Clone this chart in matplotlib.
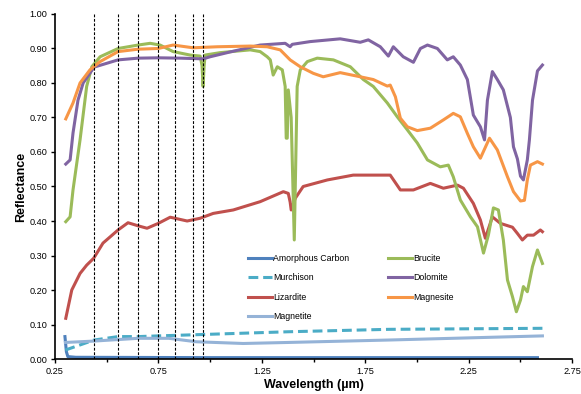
import numpy as np
import matplotlib
matplotlib.use('Agg')
import matplotlib.pyplot as plt

plt.rcParams['font.family'] = ['Liberation Sans', 'DejaVu Sans']

######data (wavelength um, reflectance)######
amorph_w = [0.298, 0.305, 0.312, 0.35, 1.0, 2.0, 2.583]
amorph_r = [0.065, 0.021, 0.007, 0.005, 0.004, 0.004, 0.004]

murch_w = [0.30, 0.439, 0.555, 0.652, 0.749, 0.961, 1.378, 1.862, 2.607]
murch_r = [0.026, 0.055, 0.065, 0.065, 0.067, 0.071, 0.079, 0.086, 0.089]

magnt_w = [0.30, 0.439, 0.652, 0.80, 0.933, 1.16, 1.378, 1.862, 2.607]
magnt_r = [0.048, 0.052, 0.060, 0.060, 0.050, 0.045, 0.048, 0.055, 0.067]

liz_w = [0.302, 0.331, 0.371, 0.403, 0.437, 0.482, 0.555, 0.603, 0.652, 0.695,
         0.749, 0.807, 0.889, 0.952, 1.015, 1.112, 1.242, 1.354, 1.378, 1.387,
         1.392, 1.412, 1.450, 1.567, 1.692, 1.871, 1.920, 1.983, 2.065, 2.128,
         2.196, 2.225, 2.273, 2.307, 2.331, 2.365, 2.404, 2.462, 2.486, 2.510,
         2.534, 2.564, 2.597, 2.607]
liz_r = [0.118, 0.200, 0.248, 0.272, 0.292, 0.336, 0.374, 0.395, 0.386, 0.379,
         0.393, 0.411, 0.400, 0.408, 0.422, 0.432, 0.456, 0.485, 0.480, 0.455,
         0.432, 0.466, 0.500, 0.519, 0.533, 0.533, 0.490, 0.490, 0.509, 0.495,
         0.504, 0.495, 0.451, 0.403, 0.350, 0.412, 0.393, 0.382, 0.364, 0.345,
         0.359, 0.359, 0.374, 0.369]

bru_w = [0.302, 0.323, 0.337, 0.371, 0.403, 0.428, 0.468, 0.555, 0.652, 0.710,
         0.758, 0.821, 0.903, 0.952, 0.961, 0.966, 0.971, 0.976, 1.049, 1.194,
         1.242, 1.276, 1.291, 1.305, 1.325, 1.349, 1.363, 1.368, 1.373, 1.378,
         1.392, 1.407, 1.421, 1.436, 1.470, 1.518, 1.596, 1.678, 1.741, 1.789,
         1.857, 1.905, 1.954, 2.002, 2.051, 2.113, 2.152, 2.176, 2.210, 2.259,
         2.293, 2.322, 2.346, 2.370, 2.394, 2.418, 2.438, 2.462, 2.481, 2.501,
         2.515, 2.534, 2.559, 2.583, 2.607]
bru_r = [0.398, 0.412, 0.490, 0.635, 0.790, 0.847, 0.876, 0.900, 0.910, 0.915,
         0.910, 0.891, 0.881, 0.878, 0.850, 0.790, 0.850, 0.881, 0.888, 0.896,
         0.891, 0.876, 0.867, 0.823, 0.847, 0.838, 0.790, 0.640, 0.640, 0.780,
         0.700, 0.345, 0.790, 0.838, 0.862, 0.872, 0.867, 0.847, 0.810, 0.790,
         0.742, 0.702, 0.664, 0.626, 0.577, 0.557, 0.562, 0.528, 0.461, 0.412,
         0.383, 0.307, 0.360, 0.438, 0.432, 0.345, 0.229, 0.181, 0.137, 0.171,
         0.210, 0.195, 0.268, 0.316, 0.277]

dol_w = [0.302, 0.323, 0.337, 0.361, 0.386, 0.439, 0.555, 0.652, 0.749, 0.855,
         0.966, 1.000, 1.097, 1.242, 1.363, 1.387, 1.397, 1.484, 1.629, 1.726,
         1.765, 1.823, 1.862, 1.886, 1.934, 1.983, 2.017, 2.051, 2.099, 2.147,
         2.176, 2.210, 2.244, 2.273, 2.307, 2.327, 2.341, 2.365, 2.389, 2.418,
         2.452, 2.467, 2.486, 2.501, 2.515, 2.534, 2.544, 2.559, 2.583, 2.607]
dol_r = [0.565, 0.577, 0.655, 0.750, 0.800, 0.846, 0.867, 0.872, 0.873, 0.872,
         0.870, 0.876, 0.890, 0.910, 0.915, 0.905, 0.912, 0.920, 0.928, 0.918,
         0.925, 0.905, 0.878, 0.905, 0.876, 0.860, 0.900, 0.910, 0.900, 0.867,
         0.876, 0.852, 0.810, 0.707, 0.673, 0.635, 0.750, 0.833, 0.810, 0.780,
         0.700, 0.615, 0.580, 0.530, 0.519, 0.577, 0.635, 0.750, 0.835, 0.852]

mgs_w = [0.302, 0.337, 0.371, 0.419, 0.468, 0.555, 0.652, 0.749, 0.821, 0.918,
         1.034, 1.194, 1.276, 1.339, 1.387, 1.436, 1.499, 1.547, 1.629, 1.726,
         1.789, 1.857, 1.871, 1.896, 1.920, 1.954, 2.002, 2.065, 2.128, 2.176,
         2.210, 2.244, 2.273, 2.307, 2.351, 2.389, 2.438, 2.467, 2.501, 2.520,
         2.534, 2.549, 2.583, 2.607]
mgs_r = [0.696, 0.742, 0.800, 0.838, 0.862, 0.891, 0.898, 0.900, 0.910, 0.902,
         0.905, 0.907, 0.905, 0.896, 0.867, 0.847, 0.828, 0.818, 0.830, 0.818,
         0.810, 0.791, 0.794, 0.760, 0.698, 0.673, 0.662, 0.669, 0.693, 0.712,
         0.702, 0.654, 0.615, 0.582, 0.640, 0.606, 0.528, 0.485, 0.458, 0.460,
         0.519, 0.562, 0.572, 0.565]

filters = [0.44, 0.555, 0.652, 0.749, 0.83, 0.918, 0.966]

#plot
fig = plt.figure(figsize=(5.81, 3.94), dpi=100)
ax = fig.add_axes([0.0947, 0.0888, 0.8898, 0.8757])
lw = 2.2
ax.plot(amorph_w, amorph_r, color='#4F81BD', lw=lw, label='Amorphous Carbon')
ax.plot(murch_w, murch_r, color='#4BACC6', lw=lw, dashes=(3.2, 1.6), label='Murchison')
ax.plot(liz_w, liz_r, color='#C0504D', lw=lw, label='Lizardite')
ax.plot(magnt_w, magnt_r, color='#95B3D7', lw=lw, label='Magnetite')
ax.plot(bru_w, bru_r, color='#9BBB59', lw=lw, label='Brucite')
ax.plot(dol_w, dol_r, color='#8064A2', lw=lw, label='Dolomite')
ax.plot(mgs_w, mgs_r, color='#F79646', lw=lw, label='Magnesite')
for f in filters:
    ax.plot([f, f], [0, 1], color='black', lw=0.8, ls=(0, (2.5, 1.5)), zorder=5)

ax.set_xlim(0.25, 2.75)
ax.set_ylim(0, 1)
ax.set_xticks(np.arange(0.25, 2.76, 0.5))
ax.set_xticks(np.arange(0.5, 2.75, 0.5), minor=True)
ax.set_yticks(np.arange(0, 1.01, 0.1))
ax.xaxis.set_major_formatter(matplotlib.ticker.FormatStrFormatter('%.2f'))
ax.yaxis.set_major_formatter(matplotlib.ticker.FormatStrFormatter('%.2f'))
ax.tick_params(axis='both', labelsize=6.6, length=3, width=1, direction='out', pad=2.5)
ax.tick_params(axis='x', which='minor', length=2.5, width=1)
ax.spines['top'].set_visible(False)
ax.spines['right'].set_visible(False)
ax.spines['bottom'].set_linewidth(1.2)
ax.spines['left'].set_linewidth(1.2)
ax.set_xlabel('Wavelength (\u00b5m)', fontsize=9, fontweight='bold', labelpad=2.5)
ax.set_ylabel('Reflectance', fontsize=9, fontweight='bold', labelpad=2)

ax.legend(ncol=2, loc='upper left', bbox_to_anchor=(0.373, 0.305), frameon=False,
          fontsize=6.3, borderpad=0, borderaxespad=0, handlelength=2.8,
          handletextpad=0.1, columnspacing=4.4, labelspacing=1.2)

plt.savefig('out.png', dpi=100)
